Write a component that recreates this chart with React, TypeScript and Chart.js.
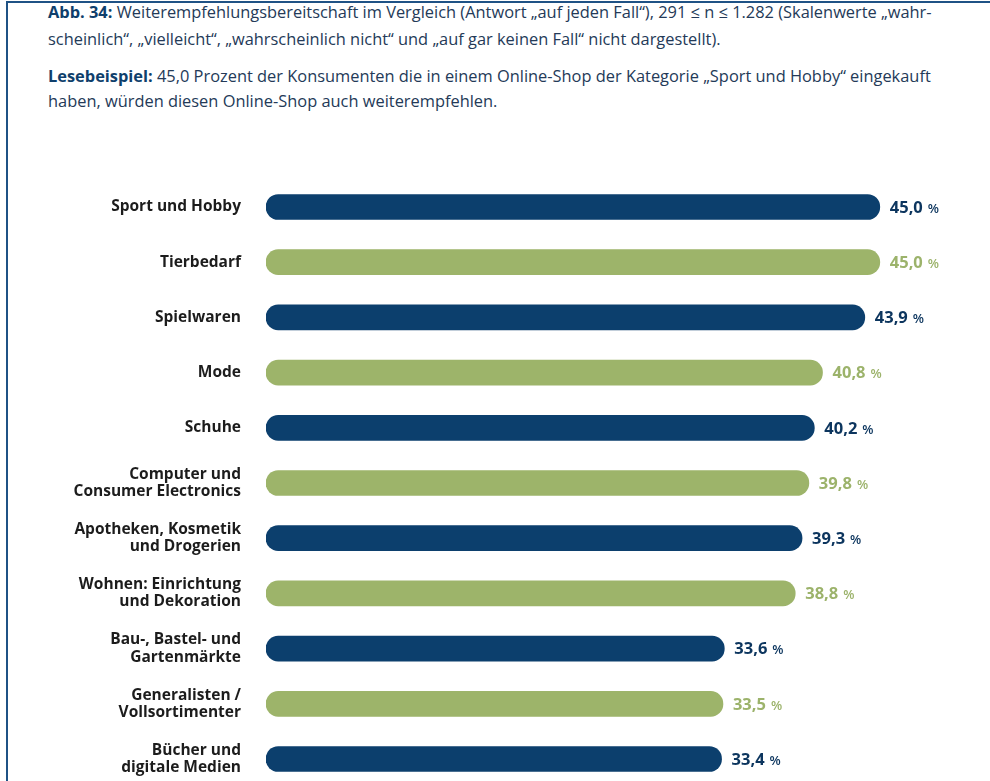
import React, { useEffect, useRef } from "react";
import { Chart, registerables } from "chart.js";

Chart.register(...registerables);

const categories: (string | string[])[] = [
  "Sport und Hobby",
  "Tierbedarf",
  "Spielwaren",
  "Mode",
  "Schuhe",
  ["Computer und", "Consumer Electronics"],
  ["Apotheken, Kosmetik", "und Drogerien"],
  ["Wohnen: Einrichtung", "und Dekoration"],
  ["Bau-, Bastel- und", "Gartenmärkte"],
  ["Generalisten /", "Vollsortimenter"],
  ["Bücher und", "digitale Medien"],
];

const values: number[] = [45.0, 45.0, 43.9, 40.8, 40.2, 39.8, 39.3, 38.8, 33.6, 33.5, 33.4];

const BLUE = "#0c3f6d";
const GREEN = "#9db46a";
const barColors: string[] = values.map((_, i) => (i % 2 === 0 ? BLUE : GREEN));
const labelColors: string[] = values.map((_, i) => (i % 2 === 0 ? "#0c355e" : "#9cb36b"));

const FONT = "'Open Sans', 'Noto Sans', sans-serif";

const valueLabels = {
  id: "valueLabels",
  afterDatasetsDraw(chart: any) {
    const ctx = chart.ctx;
    const meta = chart.getDatasetMeta(0);
    ctx.save();
    ctx.textBaseline = "middle";
    ctx.textAlign = "left";
    meta.data.forEach((bar: any, i: number) => {
      const v = values[i];
      const num = v.toFixed(1).replace(".", ",");
      const x = bar.x + 10;
      const y = bar.y + 1;
      ctx.fillStyle = labelColors[i];
      ctx.font = `bold 16.5px ${FONT}`;
      ctx.fillText(num, x, y);
      const w = ctx.measureText(num).width;
      ctx.font = `600 13px ${FONT}`;
      ctx.fillText("%", x + w + 5, y + 1);
    });
    ctx.restore();
  },
};

export default function App() {
  const canvasRef = useRef<HTMLCanvasElement | null>(null);

  useEffect(() => {
    document.body.style.margin = "0";
    document.body.style.overflow = "hidden";
    const canvas = canvasRef.current;
    if (!canvas) return;
    const chart = new Chart(canvas, {
      type: "bar",
      data: {
        labels: categories as any,
        datasets: [
          {
            data: values,
            backgroundColor: barColors,
            borderRadius: 13,
            borderSkipped: false,
            barThickness: 25,
          },
        ],
      },
      options: {
        indexAxis: "y",
        animation: false,
        responsive: true,
        maintainAspectRatio: false,
        layout: { padding: { top: 9.4, bottom: 13.4, right: 42, left: 0 } },
        plugins: {
          legend: { display: false },
          tooltip: { enabled: false },
          title: { display: false },
        },
        scales: {
          x: { display: false, min: 0, max: 50 },
          y: {
            grid: { display: false, drawTicks: false },
            border: { display: false },
            ticks: {
              padding: 25,
              color: "#1c1c1c",
              font: { family: FONT, size: 15.5, weight: "bold", lineHeight: 1.1 },
            },
            afterFit(scale: any) {
              scale.width = 266;
              scale.paddingTop = 0;
              scale.paddingBottom = 0;
            },
          },
        },
      },
      plugins: [valueLabels],
    });
    return () => chart.destroy();
  }, []);

  const textColor = "#243a58";
  const line: React.CSSProperties = {
    position: "absolute",
    left: 48,
    whiteSpace: "nowrap",
    fontFamily: FONT,
    fontSize: 16.4,
    lineHeight: "22px",
    color: textColor,
  };
  const bold: React.CSSProperties = { fontWeight: 700, color: "#0f3f6c" };

  return (
    <div style={{ position: "relative", width: 990, height: 781, overflow: "hidden", background: "#fff" }}>
      <div
        style={{
          position: "absolute",
          left: 6,
          top: 1,
          right: 0,
          bottom: 0,
          borderLeft: "2px solid #1f5285",
          borderTop: "2px solid #1f5285",
        }}
      />
      <div style={{ ...line, top: 1 }}>
        <span style={bold}>Abb. 34:</span> Weiterempfehlungsbereitschaft im Vergleich (Antwort „auf jeden Fall“), 291 ≤ n ≤ 1.282 (Skalenwerte „wahr-
      </div>
      <div style={{ ...line, top: 28 }}>
        scheinlich“, „vielleicht“, „wahrscheinlich nicht“ und „auf gar keinen Fall“ nicht dargestellt).
      </div>
      <div style={{ ...line, top: 65 }}>
        <span style={bold}>Lesebeispiel:</span> 45,0 Prozent der Konsumenten die in einem Online-Shop der Kategorie „Sport und Hobby“ eingekauft
      </div>
      <div style={{ ...line, top: 90 }}>haben, würden diesen Online-Shop auch weiterempfehlen.</div>
      <div style={{ position: "absolute", left: 0, top: 170, width: 990, height: 630 }}>
        <canvas ref={canvasRef} />
      </div>
    </div>
  );
}
